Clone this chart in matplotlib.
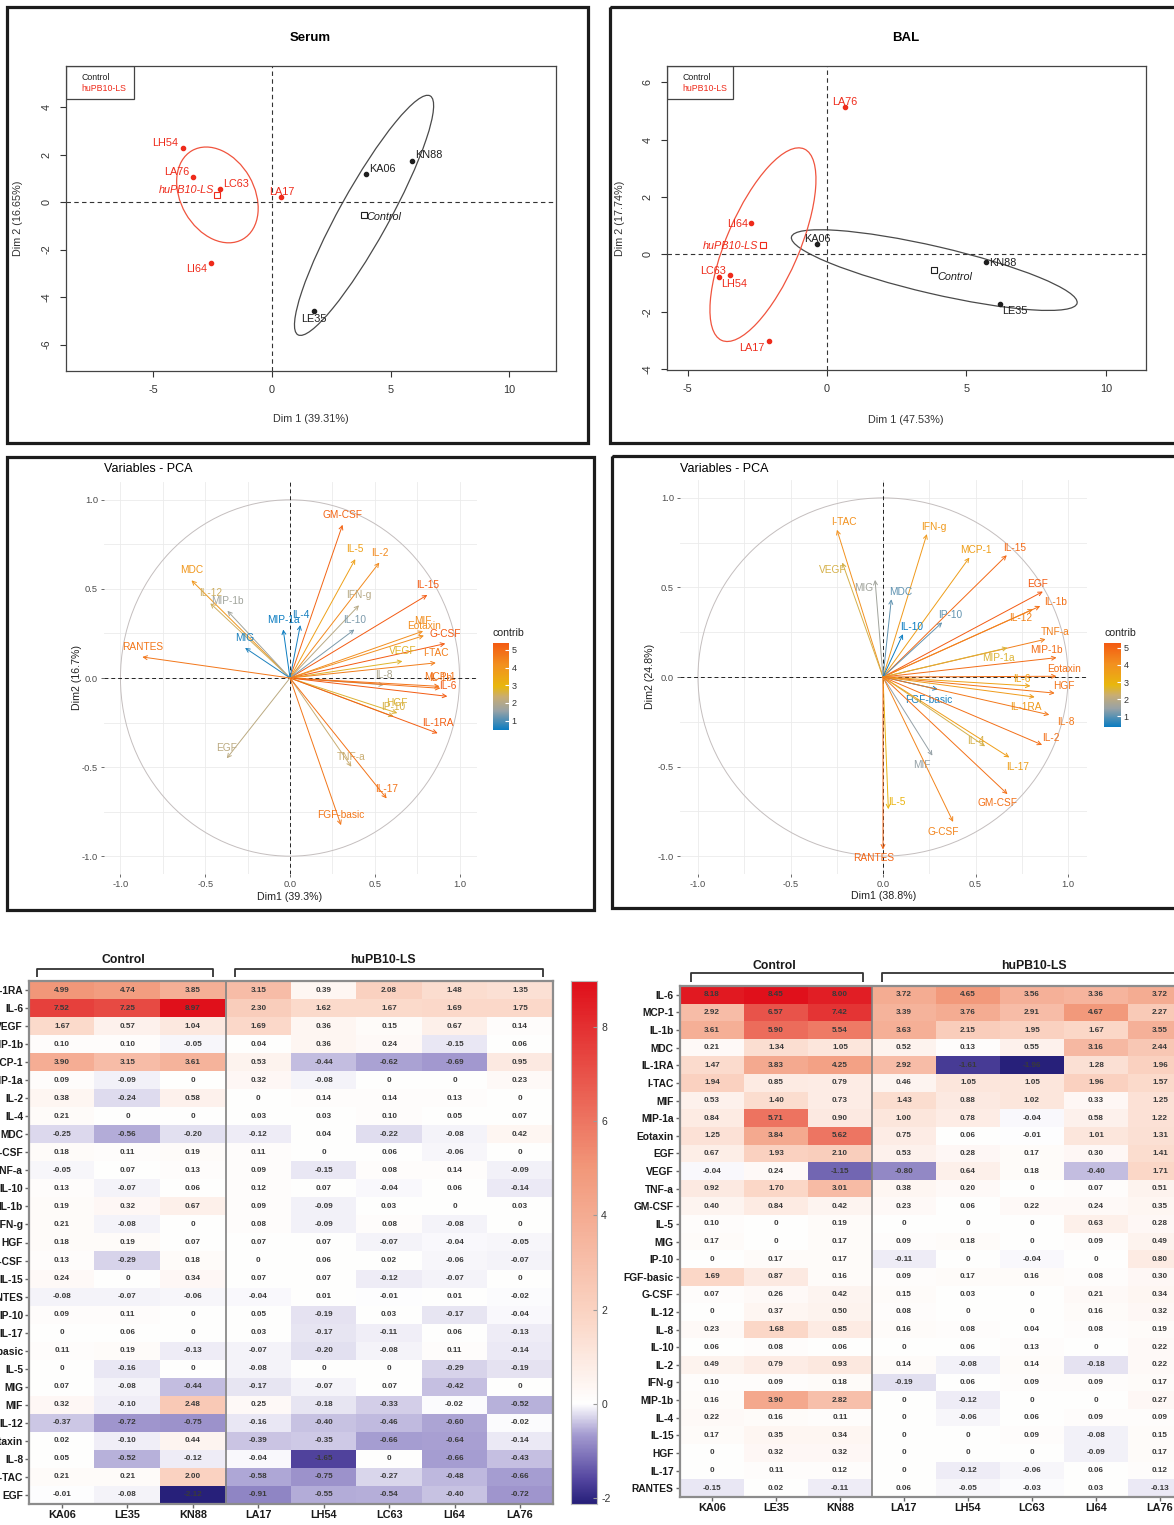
import numpy as np
import matplotlib
matplotlib.use('Agg')
import matplotlib.pyplot as plt
from matplotlib.patches import Ellipse, Rectangle, Circle
from matplotlib.colors import LinearSegmentedColormap, TwoSlopeNorm, Normalize
from matplotlib.cm import ScalarMappable

plt.rcParams['font.family'] = ['Liberation Sans', 'DejaVu Sans']
plt.rcParams['axes.unicode_minus'] = False

W, H = 1174, 1525

# ---------------- dados: scores dos indivíduos ----------------
samples = ['KA06', 'LE35', 'KN88', 'LA17', 'LH54', 'LC63', 'LI64', 'LA76']
group = ['Control'] * 3 + ['huPB10-LS'] * 5

serum_dim1 = [3.98, 1.76, 5.91, 0.40, -3.77, -2.20, -2.59, -3.35]
serum_dim2 = [1.18, -4.57, 1.71, 0.20, 2.29, 0.53, -2.57, 1.05]
bal_dim1 = [-0.35, 6.19, 5.70, -2.09, -3.47, -3.86, -2.72, 0.65]
bal_dim2 = [0.35, -1.72, -0.27, -3.02, -0.73, -0.78, 1.10, 5.13]

# elipses de confiança (largura, altura, ângulo) em unidades dos eixos
serum_ell = {'Control': (11.5, 2.1, 61), 'huPB10-LS': (4.3, 3.1, 120)}
bal_ell = {'Control': (10.5, 1.65, -12.7), 'huPB10-LS': (7.3, 2.6, 66)}

# ---------------- dados: coordenadas das variáveis ----------------
serum_var = ['GM-CSF', 'IL-5', 'IL-2', 'MDC', 'IL-12', 'MIP-1b', 'IL-15', 'IFN-g', 'MIP-1a',
             'IL-4', 'IL-10', 'MIF', 'Eotaxin', 'G-CSF', 'MIG', 'RANTES', 'VEGF', 'I-TAC',
             'IL-8', 'MCP-1', 'IL-1b', 'IL-6', 'HGF', 'IP-10', 'IL-1RA', 'EGF', 'TNF-a',
             'IL-17', 'FGF-basic']
serum_var_x = [0.31, 0.385, 0.527, -0.581, -0.47, -0.369, 0.81, 0.407, -0.04,
               0.061, 0.38, 0.785, 0.79, 0.916, -0.265, -0.871, 0.663, 0.86,
               0.554, 0.882, 0.887, 0.928, 0.633, 0.611, 0.871, -0.373, 0.362,
               0.57, 0.301]
serum_var_y = [0.86, 0.667, 0.648, 0.548, 0.419, 0.377, 0.466, 0.408, 0.272,
               0.297, 0.272, 0.263, 0.238, 0.193, 0.169, 0.118, 0.094, 0.085,
               -0.038, -0.047, -0.058, -0.103, -0.197, -0.216, -0.31, -0.451, -0.498,
               -0.676, -0.826]
serum_pct = (39.3, 16.7)

bal_var = ['I-TAC', 'IFN-g', 'MCP-1', 'IL-15', 'VEGF', 'MIG', 'MDC', 'EGF', 'IL-1b',
           'IL-12', 'IP-10', 'IL-10', 'TNF-a', 'MIP-1a', 'MIP-1b', 'Eotaxin', 'IL-6',
           'HGF', 'FGF-basic', 'IL-1RA', 'IL-8', 'IL-2', 'IL-4', 'IL-17', 'MIF',
           'GM-CSF', 'IL-5', 'G-CSF', 'RANTES']
bal_var_x = [-0.249, 0.237, 0.467, 0.669, -0.22, -0.043, 0.045, 0.864, 0.85,
             0.81, 0.32, 0.108, 0.879, 0.673, 0.938, 0.938, 0.797,
             0.928, 0.296, 0.82, 0.899, 0.86, 0.552, 0.683, 0.267,
             0.673, 0.029, 0.379, 0.0]
bal_var_y = [0.822, 0.798, 0.667, 0.68, 0.639, 0.542, 0.434, 0.477, 0.396,
             0.378, 0.305, 0.239, 0.211, 0.163, 0.108, 0.004, -0.05,
             -0.09, -0.069, -0.112, -0.211, -0.379, -0.387, -0.449, -0.439,
             -0.654, -0.738, -0.809, -0.963]
bal_pct = (38.8, 24.8)

# ---------------- dados: heatmaps (log2 fold change) ----------------
serum_rows = ['IL-1RA', 'IL-6', 'VEGF', 'MIP-1b', 'MCP-1', 'MIP-1a', 'IL-2', 'IL-4', 'MDC',
              'G-CSF', 'TNF-a', 'IL-10', 'IL-1b', 'IFN-g', 'HGF', 'GM-CSF', 'IL-15',
              'RANTES', 'IP-10', 'IL-17', 'FGF-basic', 'IL-5', 'MIG', 'MIF', 'IL-12',
              'Eotaxin', 'IL-8', 'I-TAC', 'EGF']
serum_hm = [
    [4.99, 4.74, 3.85, 3.15, 0.39, 2.08, 1.48, 1.35],
    [7.52, 7.25, 8.97, 2.30, 1.62, 1.67, 1.69, 1.75],
    [1.67, 0.57, 1.04, 1.69, 0.36, 0.15, 0.67, 0.14],
    [0.10, 0.10, -0.05, 0.04, 0.36, 0.24, -0.15, 0.06],
    [3.90, 3.15, 3.61, 0.53, -0.44, -0.62, -0.69, 0.95],
    [0.09, -0.09, 0, 0.32, -0.08, 0, 0, 0.23],
    [0.38, -0.24, 0.58, 0, 0.14, 0.14, 0.13, 0],
    [0.21, 0, 0, 0.03, 0.03, 0.10, 0.05, 0.07],
    [-0.25, -0.56, -0.20, -0.12, 0.04, -0.22, -0.08, 0.42],
    [0.18, 0.11, 0.19, 0.11, 0, 0.06, -0.06, 0],
    [-0.05, 0.07, 0.13, 0.09, -0.15, 0.08, 0.14, -0.09],
    [0.13, -0.07, 0.06, 0.12, 0.07, -0.04, 0.06, -0.14],
    [0.19, 0.32, 0.67, 0.09, -0.09, 0.03, 0, 0.03],
    [0.21, -0.08, 0, 0.08, -0.09, 0.08, -0.08, 0],
    [0.18, 0.19, 0.07, 0.07, 0.07, -0.07, -0.04, -0.05],
    [0.13, -0.29, 0.18, 0, 0.06, 0.02, -0.06, -0.07],
    [0.24, 0, 0.34, 0.07, 0.07, -0.12, -0.07, 0],
    [-0.08, -0.07, -0.06, -0.04, 0.01, -0.01, 0.01, -0.02],
    [0.09, 0.11, 0, 0.05, -0.19, 0.03, -0.17, -0.04],
    [0, 0.06, 0, 0.03, -0.17, -0.11, 0.06, -0.13],
    [0.11, 0.19, -0.13, -0.07, -0.20, -0.08, 0.11, -0.14],
    [0, -0.16, 0, -0.08, 0, 0, -0.29, -0.19],
    [0.07, -0.08, -0.44, -0.17, -0.07, 0.07, -0.42, 0],
    [0.32, -0.10, 2.48, 0.25, -0.18, -0.33, -0.02, -0.52],
    [-0.37, -0.72, -0.75, -0.16, -0.40, -0.46, -0.60, -0.02],
    [0.02, -0.10, 0.44, -0.39, -0.35, -0.66, -0.64, -0.14],
    [0.05, -0.52, -0.12, -0.04, -1.65, 0, -0.66, -0.43],
    [0.21, 0.21, 2.00, -0.58, -0.75, -0.27, -0.48, -0.66],
    [-0.01, -0.08, -2.12, -0.91, -0.55, -0.54, -0.40, -0.72],
]

bal_rows = ['IL-6', 'MCP-1', 'IL-1b', 'MDC', 'IL-1RA', 'I-TAC', 'MIF', 'MIP-1a', 'Eotaxin',
            'EGF', 'VEGF', 'TNF-a', 'GM-CSF', 'IL-5', 'MIG', 'IP-10', 'FGF-basic', 'G-CSF',
            'IL-12', 'IL-8', 'IL-10', 'IL-2', 'IFN-g', 'MIP-1b', 'IL-4', 'IL-15', 'HGF',
            'IL-17', 'RANTES']
bal_hm = [
    [8.18, 8.45, 8.00, 3.72, 4.65, 3.56, 3.36, 3.72],
    [2.92, 6.57, 7.42, 3.39, 3.76, 2.91, 4.67, 2.27],
    [3.61, 5.90, 5.54, 3.63, 2.15, 1.95, 1.67, 3.55],
    [0.21, 1.34, 1.05, 0.52, 0.13, 0.55, 3.16, 2.44],
    [1.47, 3.83, 4.25, 2.92, -1.61, -1.96, 1.28, 1.96],
    [1.94, 0.85, 0.79, 0.46, 1.05, 1.05, 1.96, 1.57],
    [0.53, 1.40, 0.73, 1.43, 0.88, 1.02, 0.33, 1.25],
    [0.84, 5.71, 0.90, 1.00, 0.78, -0.04, 0.58, 1.22],
    [1.25, 3.84, 5.62, 0.75, 0.06, -0.01, 1.01, 1.31],
    [0.67, 1.93, 2.10, 0.53, 0.28, 0.17, 0.30, 1.41],
    [-0.04, 0.24, -1.15, -0.80, 0.64, 0.18, -0.40, 1.71],
    [0.92, 1.70, 3.01, 0.38, 0.20, 0, 0.07, 0.51],
    [0.40, 0.84, 0.42, 0.23, 0.06, 0.22, 0.24, 0.35],
    [0.10, 0, 0.19, 0, 0, 0, 0.63, 0.28],
    [0.17, 0, 0.17, 0.09, 0.18, 0, 0.09, 0.49],
    [0, 0.17, 0.17, -0.11, 0, -0.04, 0, 0.80],
    [1.69, 0.87, 0.16, 0.09, 0.17, 0.16, 0.08, 0.30],
    [0.07, 0.26, 0.42, 0.15, 0.03, 0, 0.21, 0.34],
    [0, 0.37, 0.50, 0.08, 0, 0, 0.16, 0.32],
    [0.23, 1.68, 0.85, 0.16, 0.08, 0.04, 0.08, 0.19],
    [0.06, 0.08, 0.06, 0, 0.06, 0.13, 0, 0.22],
    [0.49, 0.79, 0.93, 0.14, -0.08, 0.14, -0.18, 0.22],
    [0.10, 0.09, 0.18, -0.19, 0.06, 0.09, 0.09, 0.17],
    [0.16, 3.90, 2.82, 0, -0.12, 0, 0, 0.27],
    [0.22, 0.16, 0.11, 0, -0.06, 0.06, 0.09, 0.09],
    [0.17, 0.35, 0.34, 0, 0, 0.09, -0.08, 0.15],
    [0, 0.32, 0.32, 0, 0, 0, -0.09, 0.17],
    [0, 0.11, 0.12, 0, -0.12, -0.06, 0.06, 0.12],
    [-0.15, 0.02, -0.11, 0.06, -0.05, -0.03, 0.03, -0.13],
]

# ---------------- layout (posições dos rótulos, em pixels) ----------------
serum_lab_off = {'KA06': (16, -5), 'LE35': (0, 8), 'KN88': (17, -6), 'LA17': (0, -5),
                 'LH54': (-17, -5), 'LC63': (16, -5), 'LI64': (-14, 6), 'LA76': (-16, -5)}
serum_mean_off = {'Control': (20, 2), 'huPB10-LS': (-31, -5)}
bal_lab_off = {'KA06': (0, -5), 'LE35': (15, 7), 'KN88': (17, 1), 'LA17': (-17, 7),
               'LH54': (4, 9), 'LC63': (-6, -6), 'LI64': (-14, 1), 'LA76': (0, -5)}
bal_mean_off = {'Control': (21, 7), 'huPB10-LS': (-32, 1)}

bal_var_lab = {'I-TAC': (-0.21, 0.864), 'IFN-g': (0.277, 0.837), 'MCP-1': (0.5, 0.707),
               'IL-15': (0.712, 0.72), 'VEGF': (-0.273, 0.598), 'MIG': (-0.106, 0.499),
               'MDC': (0.094, 0.477), 'EGF': (0.836, 0.52), 'IL-1b': (0.934, 0.42),
               'IL-12': (0.742, 0.327), 'IP-10': (0.365, 0.346), 'IL-10': (0.153, 0.277),
               'TNF-a': (0.932, 0.252), 'MIP-1a': (0.624, 0.107), 'MIP-1b': (0.885, 0.153),
               'Eotaxin': (0.977, 0.047), 'IL-6': (0.748, -0.013), 'HGF': (0.977, -0.05),
               'FGF-basic': (0.247, -0.127), 'IL-1RA': (0.771, -0.168), 'IL-8': (0.987, -0.252),
               'IL-2': (0.905, -0.34), 'IL-4': (0.5, -0.359), 'IL-17': (0.726, -0.501),
               'MIF': (0.212, -0.492), 'GM-CSF': (0.62, -0.705), 'IL-5': (0.075, -0.697),
               'G-CSF': (0.326, -0.864), 'RANTES': (-0.053, -1.013)}

RED = '#ee2b1b'
DARK = '#1f1f1f'

var_cmap = LinearSegmentedColormap.from_list(
    'contrib', [(0, '#0a7cc1'), (0.22, '#98a2a6'), (0.38, '#c9ad72'),
                (0.5, '#e8b70e'), (0.75, '#f2901f'), (1.0, '#f35a12')])
hm_cmap = LinearSegmentedColormap.from_list(
    'fc', [(0, '#27207a'), (0.12, '#5446a0'), (0.34, '#a39ad0'), (0.5, '#ffffff'),
           (0.6, '#fbd7c7'), (0.78, '#f2987a'), (1.0, '#e0101b')])


def rect(x0, y0, x1, y1):
    return [x0 / W, 1 - y1 / H, (x1 - x0) / W, (y1 - y0) / H]


def plot_individuos(ax, d1, d2, ell, lab_off, mean_off, xlim, ylim, xticks, yticks):
    d1 = np.array(d1)
    d2 = np.array(d2)
    g = np.array(group)
    cores = {'Control': DARK, 'huPB10-LS': RED}
    ell_cor = {'Control': '#4a4a4a', 'huPB10-LS': '#f0543e'}
    ax.axhline(0, color='#333333', lw=0.8, ls=(0, (4, 3)))
    ax.axvline(0, color='#333333', lw=0.8, ls=(0, (4, 3)))
    for gr in ['Control', 'huPB10-LS']:
        m = g == gr
        cx, cy = d1[m].mean(), d2[m].mean()
        w, h, ang = ell[gr]
        ax.add_patch(Ellipse((cx, cy), w, h, angle=ang, fill=False, ec=ell_cor[gr], lw=0.9))
        ax.plot(d1[m], d2[m], 'o', ms=3, color=cores[gr])
        ax.plot(cx, cy, 's', ms=4.5, mfc='none', mec=cores[gr], mew=0.8)
        dx, dy = mean_off[gr]
        ax.annotate(gr, (cx, cy), xytext=(dx * 0.72, -dy * 0.72), textcoords='offset points',
                    ha='center', va='center', fontsize=7.8, style='italic', color=cores[gr])
    for s, x, y, gr in zip(samples, d1, d2, group):
        dx, dy = lab_off[s]
        ax.annotate(s, (x, y), xytext=(dx * 0.72, -dy * 0.72), textcoords='offset points',
                    ha='center', va='center', fontsize=7.8, color=cores[gr])
    ax.set_xlim(*xlim)
    ax.set_ylim(*ylim)
    ax.set_xticks(xticks)
    ax.set_yticks(yticks)
    ax.set_yticklabels([str(t) for t in yticks], rotation=90, va='center')
    ax.tick_params(direction='out', length=4, width=0.8, labelsize=7.8,
                   colors='#333333', pad=6)
    for sp in ax.spines.values():
        sp.set_color('#444444')
        sp.set_linewidth(0.9)
    # legenda estilo R
    ax.add_patch(Rectangle((0, 0.891), 0.139, 0.109, transform=ax.transAxes,
                           fill=False, ec='#444444', lw=0.9))
    ax.text(0.032, 0.96, 'Control', transform=ax.transAxes, fontsize=6.3,
            color=DARK, va='center')
    ax.text(0.032, 0.925, 'huPB10-LS', transform=ax.transAxes, fontsize=6.3,
            color=RED, va='center')


def plot_variaveis(ax, cax, nomes, vx, vy, pct, lab_pos=None):
    vx = np.array(vx)
    vy = np.array(vy)
    eig = (pct[0] + pct[1]) / 100 * len(nomes)
    contrib = 100 * (vx ** 2 + vy ** 2) / eig
    norm = Normalize(contrib.min(), contrib.max())
    ax.set_xlim(-1.1, 1.1)
    ax.set_ylim(-1.1, 1.1)
    ticks = [-1, -0.5, 0, 0.5, 1]
    tl = ['-1.0', '-0.5', '0.0', '0.5', '1.0']
    ax.set_xticks(ticks)
    ax.set_xticklabels(tl)
    ax.set_yticks(ticks)
    ax.set_yticklabels(tl)
    ax.set_xticks(np.arange(-1, 1.01, 0.25), minor=True)
    ax.set_yticks(np.arange(-1, 1.01, 0.25), minor=True)
    ax.grid(True, which='both', color='#ebebeb', lw=0.6)
    ax.set_axisbelow(True)
    ax.tick_params(which='minor', length=0)
    ax.tick_params(which='major', length=2.5, width=0.6, color='#555555',
                   labelsize=6.7, labelcolor='#4d4d4d', pad=1.5)
    for sp in ax.spines.values():
        sp.set_visible(False)
    ax.add_patch(Circle((0, 0), 1, fill=False, ec='#c4bebe', lw=0.7))
    ax.axhline(0, color='#222222', lw=0.7, ls=(0, (4, 3)))
    ax.axvline(0, color='#222222', lw=0.7, ls=(0, (4, 3)))
    for n, x, y, c in zip(nomes, vx, vy, contrib):
        cor = var_cmap(norm(c))
        ax.annotate('', xy=(x, y), xytext=(0, 0),
                    arrowprops=dict(arrowstyle='->', color=cor, lw=0.7,
                                    shrinkA=0, shrinkB=0, mutation_scale=7))
        if lab_pos is None:
            ax.annotate(n, (x, y), xytext=(0, 3.5), textcoords='offset points',
                        ha='center', va='bottom', fontsize=7.3, color=cor)
        else:
            ax.text(lab_pos[n][0], lab_pos[n][1], n, ha='center', va='center',
                    fontsize=7.3, color=cor)
    cb = fig.colorbar(ScalarMappable(norm=norm, cmap=var_cmap), cax=cax, ticks=[1, 2, 3, 4, 5])
    cb.outline.set_visible(False)
    cb.ax.tick_params(labelsize=6.5, length=3, width=0.8, color='white',
                      direction='in', labelcolor='#333333', pad=2)


def plot_heatmap(ax, cax, rows, vals):
    arr = np.array(vals, dtype=float)
    norm = TwoSlopeNorm(vmin=arr.min(), vcenter=0, vmax=arr.max())
    ax.imshow(arr, cmap=hm_cmap, norm=norm, aspect='auto', interpolation='nearest')
    for i in range(arr.shape[0]):
        for j in range(arr.shape[1]):
            v = arr[i, j]
            s = '0' if v == 0 else f'{v:.2f}'
            ax.text(j, i, s, ha='center', va='center', fontsize=5.9,
                    fontweight='bold', color='#3a3a3a')
    ax.set_yticks(range(len(rows)))
    ax.set_yticklabels(rows, fontweight='bold', fontsize=7.4, color='#1a1a1a')
    ax.set_xticks(range(len(samples)))
    ax.set_xticklabels(samples, fontweight='bold', fontsize=7.8, color='#1a1a1a')
    ax.axvline(2.5, color='#808080', lw=1.2)
    for sp in ax.spines.values():
        sp.set_color('#8c8c8c')
        sp.set_linewidth(1.6)
    ax.tick_params(length=3, width=1, color='#666666', pad=1.5)
    if cax is not None:
        grad = np.linspace(arr.min(), arr.max(), 400)[:, None]
        cax.imshow(grad, cmap=hm_cmap, norm=norm, aspect='auto', origin='lower',
                   extent=[0, 1, arr.min(), arr.max()])
        cax.set_xticks([])
        cax.yaxis.tick_right()
        cax.set_yticks([-2, 0, 2, 4, 6, 8])
        cax.set_ylim(arr.min(), arr.max())
        cax.tick_params(axis='y', direction='in', length=3, color='#9a9a9a',
                        labelsize=7.5, labelcolor='#333333', pad=3)
        for sp in cax.spines.values():
            sp.set_color('#bbbbbb')
            sp.set_linewidth(0.8)


fig = plt.figure(figsize=(W / 100, H / 100), dpi=100)

# --- painel 1: Serum (indivíduos)
ax1 = fig.add_axes(rect(65.5, 65.7, 556, 370.7))
plot_individuos(ax1, serum_dim1, serum_dim2, serum_ell, serum_lab_off, serum_mean_off,
                (-8.71, 11.98), (-7.10, 5.74), [-5, 0, 5, 10], [-6, -4, -2, 0, 2, 4])

# --- painel 2: BAL (indivíduos)
ax2 = fig.add_axes(rect(666.7, 65.7, 1146, 370))
plot_individuos(ax2, bal_dim1, bal_dim2, bal_ell, bal_lab_off, bal_mean_off,
                (-5.75, 11.44), (-4.03, 6.58), [-5, 0, 5, 10], [-4, -2, 0, 2, 4, 6])

# --- painel 3: variáveis Serum
ax3 = fig.add_axes(rect(103.5, 482, 476.5, 874))
cax3 = fig.add_axes(rect(492.5, 643, 509, 730))
plot_variaveis(ax3, cax3, serum_var, serum_var_x, serum_var_y, serum_pct)

# --- painel 4: variáveis BAL
ax4 = fig.add_axes(rect(679.5, 480, 1086.5, 874))
cax4 = fig.add_axes(rect(1104, 643, 1121, 727))
plot_variaveis(ax4, cax4, bal_var, bal_var_x, bal_var_y, bal_pct, bal_var_lab)

# --- heatmaps
ax5 = fig.add_axes(rect(29.3, 981, 552.7, 1504))
cax5 = fig.add_axes(rect(571, 981, 597, 1504))
plot_heatmap(ax5, cax5, serum_rows, serum_hm)

ax6 = fig.add_axes(rect(680, 986, 1192, 1497))
plot_heatmap(ax6, None, bal_rows, bal_hm)

# --- sobreposição em pixels: molduras, títulos, chavetas
ov = fig.add_axes([0, 0, 1, 1])
ov.set_xlim(0, W)
ov.set_ylim(H, 0)
ov.axis('off')

for x0, y0, x1, y1 in [(7, 7, 588, 443), (609.5, 7, 1190, 442.5),
                       (7, 457, 594, 910), (611.5, 456, 1190, 907.5)]:
    ov.add_patch(Rectangle((x0, y0), x1 - x0, y1 - y0, fill=False, ec='#1c1c1c', lw=2.3))

ov.text(310.6, 38.3, 'Serum', ha='center', va='center', fontsize=9.5, fontweight='bold')
ov.text(906, 38.3, 'BAL', ha='center', va='center', fontsize=9.5, fontweight='bold')
ov.text(310.6, 419.3, 'Dim 1 (39.31%)', ha='center', va='center', fontsize=7.8, color='#333333')
ov.text(18.2, 218.3, 'Dim 2 (16.65%)', ha='center', va='center', fontsize=7.8,
        color='#333333', rotation=90)
ov.text(906, 420, 'Dim 1 (47.53%)', ha='center', va='center', fontsize=7.8, color='#333333')
ov.text(620, 218, 'Dim 2 (17.74%)', ha='center', va='center', fontsize=7.8,
        color='#333333', rotation=90)

ov.text(104, 469.5, 'Variables - PCA', ha='left', va='center', fontsize=9)
ov.text(680, 469, 'Variables - PCA', ha='left', va='center', fontsize=9)
ov.text(290, 896.5, 'Dim1 (39.3%)', ha='center', va='center', fontsize=7.7, color='#222222')
ov.text(76.7, 678, 'Dim2 (16.7%)', ha='center', va='center', fontsize=7.7,
        color='#222222', rotation=90)
ov.text(883.5, 895.7, 'Dim1 (38.8%)', ha='center', va='center', fontsize=7.7, color='#222222')
ov.text(650.4, 676.7, 'Dim2 (24.8%)', ha='center', va='center', fontsize=7.7,
        color='#222222', rotation=90)
ov.text(508, 632.7, 'contrib', ha='center', va='center', fontsize=7.6, color='#222222')
ov.text(1120.6, 632.7, 'contrib', ha='center', va='center', fontsize=7.6, color='#222222')


def chaveta(x0, x1, y_top, y_tip, texto, y_txt, x_txt):
    ov.plot([x0, x0, x1, x1], [y_tip, y_top, y_top, y_tip], color='#333333', lw=1.3,
            solid_capstyle='butt')
    ov.text(x_txt, y_txt, texto, ha='center', va='center', fontsize=8.8, fontweight='bold',
            color='#1a1a1a')


chaveta(36.7, 213.3, 969, 977, 'Control', 960.3, 123.3)
chaveta(235, 542.7, 969, 977, 'huPB10-LS', 960, 383.3)
chaveta(690.7, 863.3, 973.3, 981.7, 'Control', 966, 774.3)
chaveta(882.3, 1190, 973.3, 981.7, 'huPB10-LS', 966, 1034)

fig.savefig('out.png', dpi=100)
